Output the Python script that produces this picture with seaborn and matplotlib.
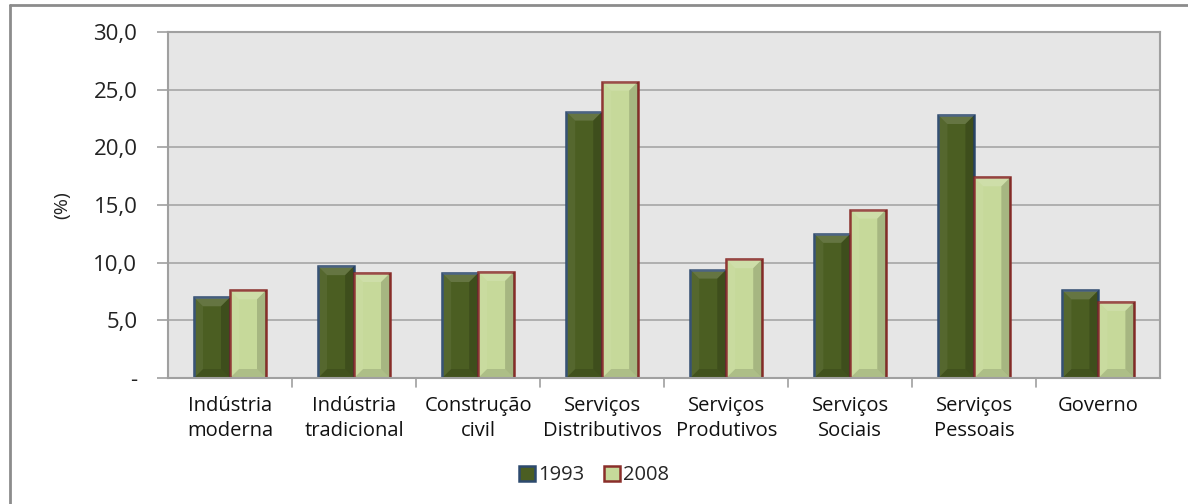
import matplotlib
matplotlib.use("Agg")
import matplotlib.pyplot as plt
from matplotlib.ticker import FuncFormatter
from matplotlib.lines import Line2D
from matplotlib.patches import Patch
import seaborn as sns
import pandas as pd
import numpy as np

categorias = ["Indústria\nmoderna", "Indústria\ntradicional", "Construção\ncivil",
              "Serviços\nDistributivos", "Serviços\nProdutivos", "Serviços\nSociais",
              "Serviços\nPessoais", "Governo"]
anos = ["1993", "2008"]
valores_1993 = [7.0, 9.7, 9.1, 23.1, 9.4, 12.5, 22.8, 7.6]
valores_2008 = [7.6, 9.1, 9.2, 25.7, 10.3, 14.6, 17.4, 6.6]

cores = {"1993": "#4b5e22", "2008": "#c6d99a"}
bordas = {"1993": "#2d4a6e", "2008": "#8a2e2a"}

df = pd.DataFrame({
    "setor": categorias * 2,
    "ano": ["1993"] * len(categorias) + ["2008"] * len(categorias),
    "valor": valores_1993 + valores_2008,
})

sns.set_theme(style="white")
plt.rcParams["font.family"] = ["Open Sans", "DejaVu Sans"]

fig = plt.figure(figsize=(11.88, 5.04), dpi=100)
ax = fig.add_axes([0.1414, 0.25, 0.8354, 0.6865])
ax.set_facecolor("#e6e6e6")

sns.barplot(data=df, x="setor", y="valor", hue="ano", palette=cores,
            width=0.58, ax=ax, legend=False, saturation=1)

# bordas e efeito de bisel
for cont, ano in zip(ax.containers, anos):
    for p in cont:
        p.set_edgecolor(bordas[ano])
        p.set_linewidth(1.8)
        x0, y0 = p.get_x(), p.get_y()
        w, h = p.get_width(), p.get_height()
        d = w * 0.25
        dy = d * 124 / 11.53
        z = p.get_zorder() + 0.1
        top = [(x0, y0 + h), (x0 + w, y0 + h), (x0 + w - d, y0 + h - dy), (x0 + d, y0 + h - dy)]
        right = [(x0 + w, y0 + h), (x0 + w, y0), (x0 + w - d, y0 + dy), (x0 + w - d, y0 + h - dy)]
        left = [(x0, y0 + h), (x0, y0), (x0 + d, y0 + dy), (x0 + d, y0 + h - dy)]
        bottom = [(x0, y0), (x0 + w, y0), (x0 + w - d, y0 + dy), (x0 + d, y0 + dy)]
        ax.add_patch(plt.Polygon(top, closed=True, color="white", alpha=0.15, lw=0, zorder=z))
        ax.add_patch(plt.Polygon(left, closed=True, color="white", alpha=0.06, lw=0, zorder=z))
        ax.add_patch(plt.Polygon(right, closed=True, color="black", alpha=0.16, lw=0, zorder=z))
        ax.add_patch(plt.Polygon(bottom, closed=True, color="black", alpha=0.12, lw=0, zorder=z))

ax.set_ylim(0, 30)
ax.set_xlim(-0.5, len(categorias) - 0.5)
ax.set_yticks(np.arange(0, 31, 5))
ax.yaxis.set_major_formatter(FuncFormatter(lambda v, _: "-" if v == 0 else f"{v:.1f}".replace(".", ",")))
ax.yaxis.grid(True, color="#a6a6a6", lw=1.2)
ax.set_axisbelow(True)
ax.set_xlabel("")
ax.set_ylabel("(%)", fontsize=14, color="#222222", labelpad=16)

for s in ["top", "right", "left", "bottom"]:
    ax.spines[s].set_color("#a0a0a0")
    ax.spines[s].set_linewidth(1.5)

ax.tick_params(axis="y", length=8, width=1.2, color="#a0a0a0", left=True, labelsize=16, pad=14, labelcolor="#222222")
ax.tick_params(axis="x", length=0, labelsize=14.5, pad=13, labelcolor="#111111")
for lab in ax.get_xticklabels():
    lab.set_linespacing(1.3)

# separadores de categoria
sep = np.arange(0.5, len(categorias) - 0.5, 1)
for s in sep:
    ax.plot([s, s], [0, -0.75], color="#a0a0a0", lw=1.2, clip_on=False)

handles = [Patch(facecolor=cores[a], edgecolor=bordas[a], linewidth=1.8) for a in anos]
fig.legend(handles, anos, loc="center", bbox_to_anchor=(0.5, 0.057), ncol=2, frameon=False,
           fontsize=14.5, handlelength=0.8, handleheight=0.8, handletextpad=0.15, columnspacing=1.0)

# moldura externa (esquerda e topo)
fig.add_artist(Line2D([0.0088, 0.0088], [0, 0.99], transform=fig.transFigure, color="#8c8c8c", lw=2))
fig.add_artist(Line2D([0.0088, 1.0], [0.99, 0.99], transform=fig.transFigure, color="#8c8c8c", lw=2))

fig.savefig("out.png", dpi=100)
